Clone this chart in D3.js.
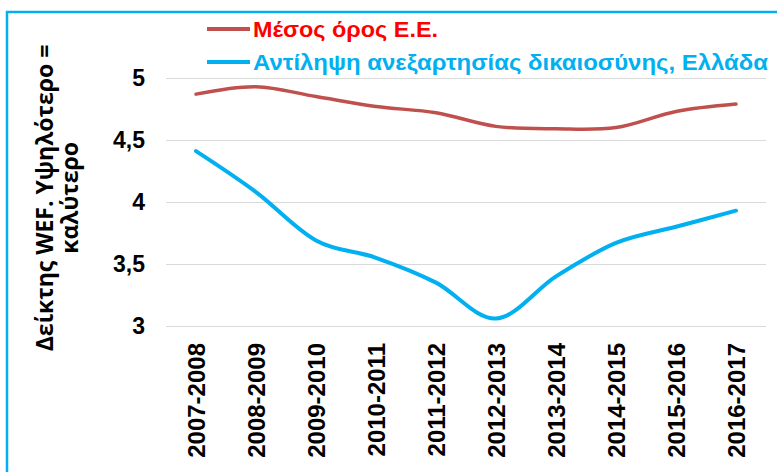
<!DOCTYPE html>
<html lang="el">
<head>
    <meta charset="UTF-8">
    <title>WEF</title>
    <script src="https://cdn.jsdelivr.net/npm/d3@7"></script>
    <style>
        body { margin: 0; background: #fff; }
        svg { display: block; }
    </style>
</head>
<body>
<div id="chart"></div>
<script type="text/javascript">
    var w = 777;
    var h = 472;

    var years = ["2007-2008", "2008-2009", "2009-2010", "2010-2011", "2011-2012",
                 "2012-2013", "2013-2014", "2014-2015", "2015-2016", "2016-2017"];
    var euAvg = [4.87, 4.93, 4.85, 4.77, 4.72, 4.61, 4.59, 4.60, 4.73, 4.79];
    var greece = [4.41, 4.08, 3.69, 3.55, 3.35, 3.06, 3.40, 3.67, 3.80, 3.93];
    var yTicks = [3, 3.5, 4, 4.5, 5];
    var seriesNames = ["Μέσος όρος Ε.Ε.", "Αντίληψη ανεξαρτησίας δικαιοσύνης, Ελλάδα"];
    var titleLines = ["Δείκτης WEF. Υψηλότερο =", "καλύτερο"];

    var svg = d3.select("#chart")
      .append("svg")
      .attr("width", w)
      .attr("height", h);

    // frame
    svg.append("rect")
      .attr("x", 7)
      .attr("y", 12)
      .attr("width", w + 20)
      .attr("height", h + 20)
      .attr("fill", "none")
      .attr("stroke", "#00b0f0")
      .attr("stroke-width", 2.5);

    var x = d3.scaleBand().domain(years).range([166, 766]);
    var y = d3.scaleLinear().domain([3, 5]).range([326, 78]);

    // gridlines
    svg.append("g")
      .attr("transform", "translate(166,0)")
      .call(d3.axisLeft(y).tickValues(yTicks).tickSize(-600).tickFormat(""))
      .call(function(g) {
          g.select(".domain").remove();
          g.selectAll("line").attr("stroke", "#d9d9d9").attr("stroke-width", 1);
      });

    // y labels
    svg.append("g")
      .selectAll("text")
      .data(yTicks)
      .enter()
      .append("text")
      .attr("x", 145)
      .attr("y", function(d) { return y(d); })
      .attr("dy", "0.36em")
      .attr("text-anchor", "end")
      .style("font-family", "'Liberation Sans', Arial, sans-serif")
      .style("font-weight", "bold")
      .style("font-size", "23px")
      .text(function(d) { return String(d).replace(".", ","); });

    // x labels
    svg.append("g")
      .selectAll("text")
      .data(years)
      .enter()
      .append("text")
      .attr("transform", function(d) {
          return "translate(" + (x(d) + x.bandwidth() / 2) + ",343) rotate(-90)";
      })
      .attr("dy", "0.36em")
      .attr("text-anchor", "end")
      .style("font-family", "'Liberation Sans', Arial, sans-serif")
      .style("font-weight", "bold")
      .style("font-size", "24px")
      .text(function(d) { return d; });

    // axis title
    svg.append("g")
      .selectAll("text")
      .data(titleLines)
      .enter()
      .append("text")
      .attr("transform", function(d, i) {
          return "translate(" + (53 + i * 25) + ",198) rotate(-90)";
      })
      .attr("text-anchor", "middle")
      .style("font-family", "'Open Sans', 'Noto Sans', sans-serif")
      .style("font-weight", "bold")
      .style("font-size", "23px")
      .text(function(d) { return d; });

    var line = d3.line()
      .x(function(d, i) { return x(years[i]) + x.bandwidth() / 2; })
      .y(function(d) { return y(d); })
      .curve(d3.curveCardinal.tension(0));

    var series = [
        {name: seriesNames[0], values: euAvg, color: "#c0504d", text: "#ff0000", width: 3.5, len: 185},
        {name: seriesNames[1], values: greece, color: "#00b0f0", text: "#00b0f0", width: 4, len: 515}
    ];

    series.forEach(function(s) {
        svg.append("path")
          .attr("d", line(s.values))
          .attr("fill", "none")
          .attr("stroke", s.color)
          .attr("stroke-width", s.width)
          .attr("stroke-linecap", "round");
    });

    // legend
    var legend = svg.append("g")
      .selectAll("g")
      .data(series)
      .enter()
      .append("g")
      .attr("transform", function(d, i) { return "translate(207," + (29 + i * 33) + ")"; });

    legend.append("line")
      .attr("x1", 0)
      .attr("x2", 43)
      .attr("stroke", function(d) { return d.color; })
      .attr("stroke-width", 4);

    legend.append("text")
      .attr("x", 46)
      .attr("y", 8)
      .attr("textLength", function(d) { return d.len; })
      .attr("lengthAdjust", "spacingAndGlyphs")
      .attr("fill", function(d) { return d.text; })
      .style("font-family", "'Liberation Sans Narrow', 'Arial Narrow', 'Liberation Sans', sans-serif")
      .style("font-weight", "bold")
      .style("font-size", "22px")
      .text(function(d) { return d.name; });
</script>
</body>
</html>
